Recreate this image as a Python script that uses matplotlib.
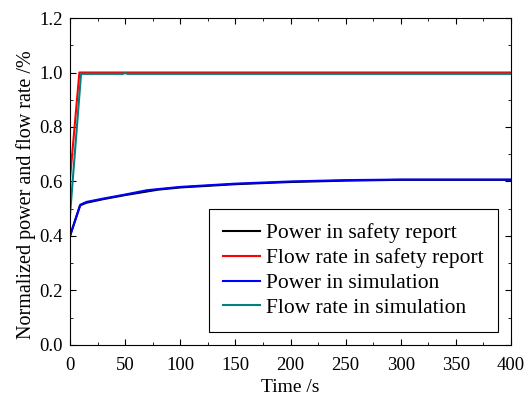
import matplotlib.pyplot as plt
from matplotlib.ticker import MultipleLocator

plt.rcParams['font.family'] = ['Liberation Serif', 'DejaVu Serif']
plt.rcParams['mathtext.fontset'] = 'stix'

# Data
t_power_report = [0, 9, 15, 30, 50, 80, 100, 150, 200, 250, 300, 350, 400]
power_report = [0.40, 0.512, 0.522, 0.535, 0.55, 0.57, 0.578, 0.59, 0.598, 0.603, 0.606, 0.606, 0.606]

t_flow_report = [0, 8.5, 400]
flow_report = [0.61, 1.0, 1.0]

t_power_sim = [0, 9.5, 15, 30, 50, 70, 100, 150, 200, 250, 300, 350, 400]
power_sim = [0.40, 0.515, 0.525, 0.537, 0.552, 0.568, 0.58, 0.592, 0.600, 0.605, 0.607, 0.607, 0.607]

t_flow_sim = [0, 10, 48, 50, 52, 400]
flow_sim = [0.477, 0.995, 0.995, 0.998, 0.995, 0.995]

fig = plt.figure(figsize=(5.28, 3.96), dpi=100)
ax = fig.add_axes([0.1326, 0.129, 0.8352, 0.8255])

ax.plot(t_power_report, power_report, color='black', lw=1.5, label='Power in safety report')
ax.plot(t_flow_report, flow_report, color='red', lw=1.5, label='Flow rate in safety report')
ax.plot(t_power_sim, power_sim, color='blue', lw=1.5, label='Power in simulation')
ax.plot(t_flow_sim, flow_sim, color='#008080', lw=1.5, label='Flow rate in simulation')

ax.set_xlim(0, 400)
ax.set_ylim(0, 1.2)
ax.xaxis.set_major_locator(MultipleLocator(50))
ax.xaxis.set_minor_locator(MultipleLocator(25))
ax.yaxis.set_major_locator(MultipleLocator(0.2))
ax.yaxis.set_minor_locator(MultipleLocator(0.1))
ax.yaxis.set_major_formatter(plt.FormatStrFormatter('%.1f'))
ax.tick_params(which='both', direction='in', top=True, right=True, labelsize=13.5)
ax.tick_params(axis='x', which='major', length=4, pad=9)
ax.tick_params(axis='y', which='major', length=4, pad=5)
ax.tick_params(which='minor', length=2.5)

ax.set_xlabel('Time /s', fontsize=14, labelpad=3)
ax.set_ylabel('Normalized power and flow rate /%', fontsize=14.5)
ax.yaxis.set_label_coords(-0.078, 0.46)

leg = ax.legend(loc='lower right', fontsize=15.5, frameon=True, fancybox=False,
                edgecolor='black', framealpha=1, handlelength=1.7, handletextpad=0.3,
                borderpad=0.65, labelspacing=0.22, bbox_to_anchor=(0.97, 0.04),
                borderaxespad=0)
leg.get_frame().set_linewidth(0.8)

fig.savefig('out.png', dpi=100)
